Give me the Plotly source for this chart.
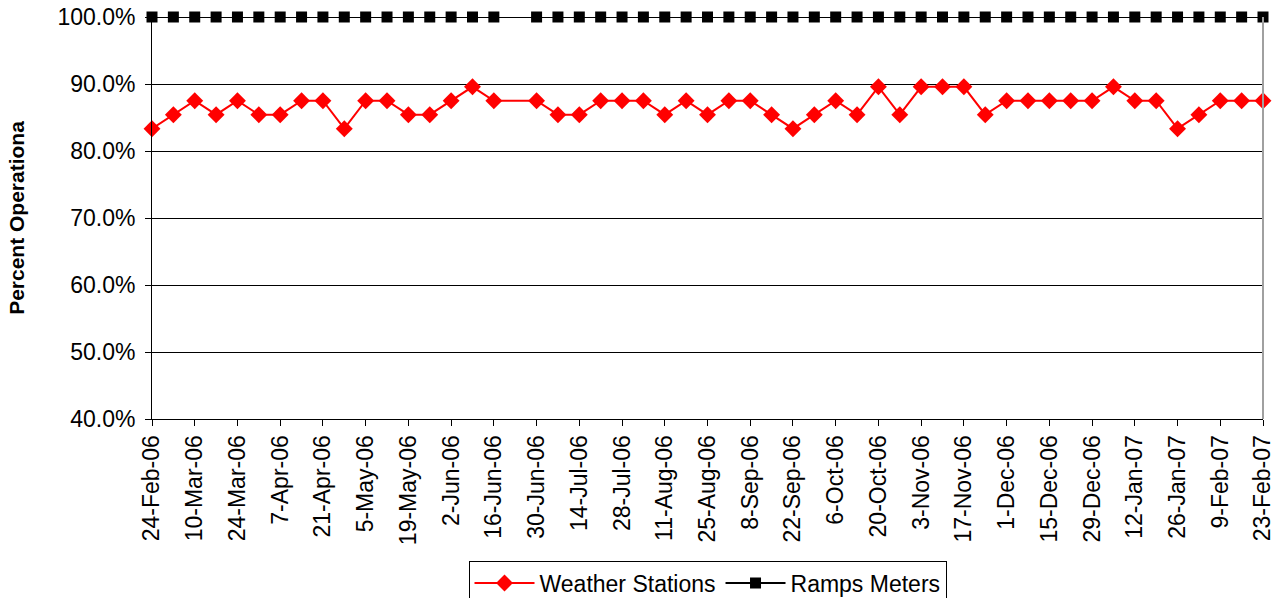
import plotly.graph_objects as go

# Weekly reporting dates (no report for 23-Jun-06)
dates = [
    "2006-02-24", "2006-03-03", "2006-03-10", "2006-03-17", "2006-03-24", "2006-03-31",
    "2006-04-07", "2006-04-14", "2006-04-21", "2006-04-28", "2006-05-05", "2006-05-12",
    "2006-05-19", "2006-05-26", "2006-06-02", "2006-06-09", "2006-06-16",
    "2006-06-30", "2006-07-07", "2006-07-14", "2006-07-21", "2006-07-28",
    "2006-08-04", "2006-08-11", "2006-08-18", "2006-08-25",
    "2006-09-01", "2006-09-08", "2006-09-15", "2006-09-22", "2006-09-29",
    "2006-10-06", "2006-10-13", "2006-10-20", "2006-10-27",
    "2006-11-03", "2006-11-10", "2006-11-17", "2006-11-24",
    "2006-12-01", "2006-12-08", "2006-12-15", "2006-12-22", "2006-12-29",
    "2007-01-05", "2007-01-12", "2007-01-19", "2007-01-26",
    "2007-02-02", "2007-02-09", "2007-02-16", "2007-02-23",
]

# Share of devices operational
weather_stations = [
    0.8333, 0.8542, 0.8750, 0.8542, 0.8750, 0.8542,
    0.8542, 0.8750, 0.8750, 0.8333, 0.8750, 0.8750,
    0.8542, 0.8542, 0.8750, 0.8958, 0.8750,
    0.8750, 0.8542, 0.8542, 0.8750, 0.8750,
    0.8750, 0.8542, 0.8750, 0.8542,
    0.8750, 0.8750, 0.8542, 0.8333, 0.8542,
    0.8750, 0.8542, 0.8958, 0.8542,
    0.8958, 0.8958, 0.8958, 0.8542,
    0.8750, 0.8750, 0.8750, 0.8750, 0.8750,
    0.8958, 0.8750, 0.8750, 0.8333,
    0.8542, 0.8750, 0.8750, 0.8750,
]
ramp_meters = [1.0] * len(dates)

y_ticks = [0.4, 0.5, 0.6, 0.7, 0.8, 0.9, 1.0]

FONT = "Liberation Sans, Arial, sans-serif"
WEEK_MS = 7 * 24 * 3600 * 1000

fig = go.Figure()
fig.add_trace(go.Scatter(
    x=dates, y=weather_stations, name="Weather Stations",
    mode="lines+markers",
    line=dict(color="#FF0000", width=2),
    marker=dict(symbol="diamond", size=13, color="#FF0000"),
    cliponaxis=False,
))
fig.add_trace(go.Scatter(
    x=dates, y=ramp_meters, name="Ramps Meters",
    mode="lines+markers",
    line=dict(color="#000000", width=2),
    marker=dict(symbol="square", size=11, color="#000000"),
    cliponaxis=False,
))

fig.update_layout(
    width=1279, height=598,
    margin=dict(l=152, r=16, t=17, b=179, autoexpand=False),
    paper_bgcolor="white", plot_bgcolor="white",
    font=dict(family=FONT, size=23, color="#000000"),
    showlegend=True,
    legend=dict(
        orientation="h", x=0.5, xanchor="center", y=-0.352, yanchor="top",
        bordercolor="#000000", borderwidth=1,
        font=dict(family=FONT, size=23),
        itemwidth=60, tracegroupgap=0,
    ),
    xaxis=dict(
        type="date", automargin=False,
        range=["2006-02-24", "2007-02-23"],
        tick0="2006-02-24", dtick=2 * WEEK_MS,
        tickformat="%-d-%b-%y", tickangle=-90,
        ticks="outside", ticklen=6, tickcolor="#000000",
        showline=True, linecolor="#000000", linewidth=1,
        showgrid=False, zeroline=False,
        tickfont=dict(family=FONT, size=23),
    ),
    yaxis=dict(
        automargin=False,
        range=[0.4, 1.0],
        tickvals=y_ticks, tickformat=".1%",
        ticks="outside", ticklen=6, tickcolor="#000000",
        ticklabelstandoff=5,
        showline=True, linecolor="#000000", linewidth=1,
        showgrid=True, gridcolor="#000000", gridwidth=1,
        zeroline=False,
        tickfont=dict(family=FONT, size=23),
        title=dict(text="<b>Percent Operationa</b>", standoff=27,
                   font=dict(family=FONT, size=21)),
    ),
    shapes=[dict(type="line", xref="paper", yref="paper",
                 x0=1, x1=1, y0=0, y1=1,
                 line=dict(color="#A0A0A0", width=2))],
)

fig.write_html("out.html")
